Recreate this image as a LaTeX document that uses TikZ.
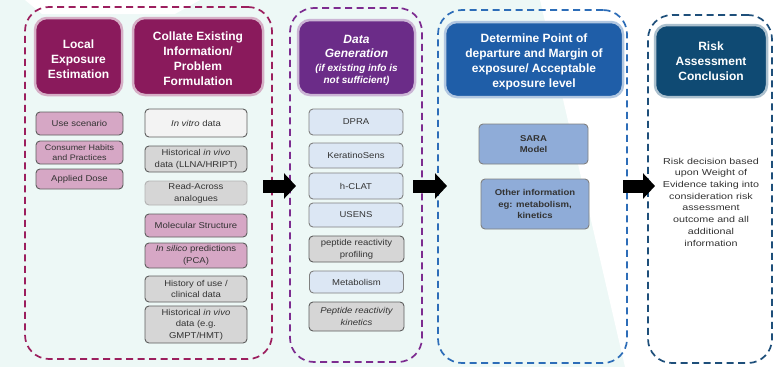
\documentclass[tikz,border=0pt]{standalone}
\usepackage{fontspec}
\setmainfont{Liberation Sans}
\newfontfamily\bodyfont[FakeStretch=1.12]{Liberation Sans}
\newfontfamily\riskfont[FakeStretch=1.25]{Liberation Sans}
\usepackage{tikz}
\usetikzlibrary{shapes,arrows,arrows.meta,positioning,calc}

\definecolor{bgmint}{HTML}{EDF8F6}
\definecolor{magdash}{HTML}{9C1F5E}
\definecolor{hdrmag}{HTML}{8A1A5C}
\definecolor{pinkbox}{HTML}{D6A7C5}
\definecolor{purdash}{HTML}{7D2C90}
\definecolor{hdrpur}{HTML}{6B2C88}
\definecolor{bludash}{HTML}{2D6DB8}
\definecolor{hdrblu}{HTML}{1F5EA8}
\definecolor{navdash}{HTML}{1E4F7A}
\definecolor{hdrnav}{HTML}{0F4A73}
\definecolor{lightblu}{HTML}{DCE7F4}
\definecolor{sarablu}{HTML}{8FACD8}
\definecolor{grybox}{HTML}{D6D6D6}
\definecolor{palebox}{HTML}{F3F3F3}
\definecolor{edgegray}{HTML}{5E5E5E}
\definecolor{txtdark}{HTML}{333333}

\newcommand{\hdsmall}{\fontsize{10}{12}\selectfont}
\newcommand{\hdstrut}{\rule{0pt}{14pt}}

\tikzset{
  sz/.style 2 args={minimum width=#1pt, minimum height=#2pt},
  grp/.style={draw=#1, dash pattern=on 7pt off 4.5pt, line width=1.7pt,
    rounded corners=24pt, inner sep=0pt, outer sep=0pt},
  hdr/.style={fill=#1, draw=#1!35, line width=2.5pt, rounded corners=12pt,
    text=white, font=\fontsize{12}{15}\selectfont\bfseries, align=center, inner sep=0pt},
  item/.style={fill=#1, draw=edgegray, line width=0.9pt, rounded corners=4pt,
    text=txtdark, font=\bodyfont\fontsize{8.5}{11.7}\selectfont, align=center, inner sep=1pt},
  risktxt/.style={text=txtdark, font=\riskfont\fontsize{8.6}{11.7}\selectfont, align=center},
  blockarr/.style={black, line width=13pt, -{Triangle[length=12pt,width=25pt]}},
}

\begin{document}
\begin{tikzpicture}[x=1pt, y=-1pt]
% 背景
\fill[bgmint] (0,0) rectangle (774,367);
\fill[white] (540,0) -- (774,0) -- (774,367) -- (625,367) -- cycle;
\fill[white] (25,0) -- (200,0) -- (175,14) -- (42,14) -- cycle;
\useasboundingbox (0,0) rectangle (774,367);

% 分组
\node[grp=magdash, sz={247}{352}] (g1) at (148.5,183) {};
\node[grp=purdash, sz={132}{354}] (g2) at (356,185) {};
\node[grp=bludash, sz={189}{353}] (g3) at (532.5,186.5) {};
\node[grp=navdash, sz={124}{348}] (g4) at (710,189) {};

% 标题
\node[hdr=hdrmag, sz={87}{77}] (local) at (78.5,56.5) {\hdstrut Local\\Exposure\\Estimation};
\node[hdr=hdrmag, sz={130}{77}] (collate) at (198,56.5) {\hdstrut Collate Existing\\Information/\\Problem\\Formulation};
\node[hdr=hdrpur, sz={117}{75}, font=\fontsize{12}{13}\selectfont\bfseries\itshape] (datagen) at (356.5,57.5)
  {\hdstrut Data\\[1pt]Generation\\[1pt]\hdsmall(if existing info is\\[-1pt]\hdsmall not sufficient)};
\node[hdr=hdrblu, sz={178}{75}] (pod) at (534,59.5) {\hdstrut Determine Point of\\departure and Margin of\\exposure/ Acceptable\\exposure level};
\node[hdr=hdrnav, sz={112}{72}] (risk) at (711,61) {Risk\\Assessment\\Conclusion};

% 暴露
\node[item=pinkbox, sz={87}{23}] (use) at (79.5,123.5) {Use scenario};
\node[item=pinkbox, sz={87}{23}, font=\bodyfont\fontsize{8}{10}\selectfont] (habits) at (79.5,152.5) {Consumer Habits\\and Practices};
\node[item=pinkbox, sz={87}{20}] (dose) at (79.5,179) {Applied Dose};

% 现有信息
\node[item=palebox, sz={102}{28}] (vitro) at (196,123) {\textit{In vitro} data};
\node[item=grybox, sz={102}{26}] (llna) at (196,159) {Historical \textit{in vivo}\\data (LLNA/HRIPT)};
\node[item=grybox, sz={102}{24}, draw=gray!60] (readx) at (196,193) {Read-Across\\analogues};
\node[item=pinkbox, sz={102}{23}] (molec) at (196,225.5) {Molecular Structure};
\node[item=pinkbox, sz={102}{25}] (silico) at (196,255.5) {\textit{In silico} predictions\\(PCA)};
\node[item=grybox, sz={102}{26}] (history) at (196,289) {History of use /\\clinical data};
\node[item=grybox, sz={102}{37}] (gmpt) at (196,324.5) {Historical \textit{in vivo}\\data (e.g.\\GMPT/HMT)};

% 数据生成
\node[item=lightblu, sz={94}{26}, draw=gray] (dpra) at (356,122) {DPRA};
\node[item=lightblu, sz={94}{25}, draw=gray] (kerat) at (356,155.5) {KeratinoSens};
\node[item=lightblu, sz={94}{26}, draw=gray] (hclat) at (356,186) {h-CLAT};
\node[item=lightblu, sz={94}{24}, draw=gray] (usens) at (356,215) {USENS};
\node[item=grybox, sz={95}{26}] (pepprof) at (356.5,249) {peptide reactivity\\profiling};
\node[item=lightblu, sz={94}{22}, draw=gray] (metab) at (356.5,282) {Metabolism};
\node[item=grybox, sz={95}{29}, font=\bodyfont\fontsize{8.5}{11.7}\selectfont\itshape] (pepkin) at (356.5,316.5) {Peptide reactivity\\kinetics};

% 起始点
\node[item=sarablu, sz={109}{40}, draw=gray, font=\bodyfont\fontsize{8.5}{11.7}\selectfont\bfseries] (sara) at (533.5,144) {SARA\\Model};
\node[item=sarablu, sz={108}{50}, draw=gray, font=\bodyfont\fontsize{8.5}{11.7}\selectfont\bfseries] (other) at (535,204) {Other information\\eg: metabolism,\\kinetics};

% 结论
\node[risktxt] (rtxt) at (711,202) {Risk decision based\\upon Weight of\\Evidence taking into\\consideration risk\\assessment\\outcome and all\\additional\\information};

% 箭头
\coordinate (row) at (0,186);
\draw[blockarr] ($(g1.east|-row)+(-9,0)$) -- ($(g2.west|-row)+(6,0)$);
\draw[blockarr] ($(g2.east|-row)+(-9,0)$) -- ($(g3.west|-row)+(9,0)$);
\draw[blockarr] ($(g3.east|-row)+(-4,0)$) -- ($(g4.west|-row)+(7,0)$);
\end{tikzpicture}
\end{document}
